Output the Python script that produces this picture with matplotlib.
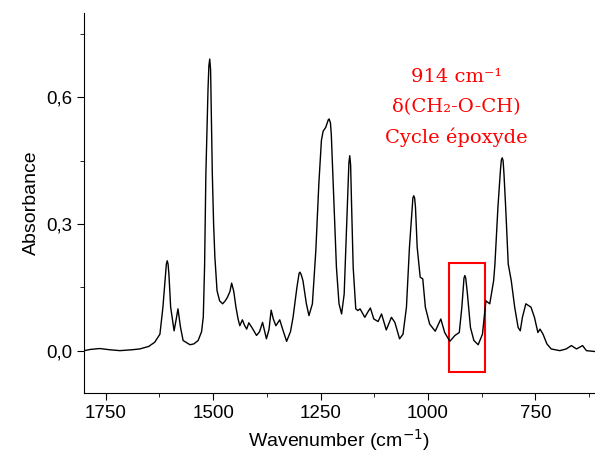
import matplotlib
matplotlib.use('Agg')
from matplotlib import pyplot as plt
from matplotlib.ticker import MultipleLocator, FuncFormatter
from matplotlib.patches import Rectangle

# FTIR spectrum
wavenumber = [1800, 1785, 1764, 1740, 1717, 1690, 1671, 1650, 1636, 1624, 1617, 1611,
              1609, 1607, 1605, 1603, 1599, 1591, 1586, 1582, 1576, 1570, 1554, 1545,
              1535, 1527, 1523, 1520, 1517, 1512, 1510, 1508, 1506, 1505, 1502, 1499,
              1496, 1491, 1485, 1478, 1472, 1467, 1461, 1457, 1452, 1447, 1442, 1438,
              1432, 1427, 1422, 1417, 1410, 1399, 1392, 1385, 1380, 1376, 1370, 1365,
              1360, 1354, 1345, 1338, 1329, 1320, 1314, 1305, 1300, 1298, 1295, 1291,
              1283, 1277, 1269, 1261, 1254, 1248, 1244, 1238, 1232, 1230, 1227, 1225,
              1219, 1213, 1207, 1201, 1195, 1190, 1186, 1184, 1182, 1180, 1178, 1174,
              1168, 1163, 1158, 1152, 1147, 1139, 1134, 1126, 1116, 1108, 1097, 1085,
              1077, 1066, 1058, 1050, 1043, 1036, 1035, 1033, 1031, 1029, 1025, 1018,
              1012, 1006, 996, 983, 970, 961, 949, 937, 927, 921, 916, 914,
              912, 908, 901, 893, 883, 873, 865, 856, 847, 844, 837, 831,
              829, 827, 825, 823, 819, 813, 806, 798, 790, 785, 780, 772,
              760, 752, 744, 739, 732, 723, 713, 693, 678, 666, 654, 640,
              631, 612]
absorbance = [0.000, 0.003, 0.005, 0.002, 0.000, 0.002, 0.004, 0.010, 0.020, 0.039, 0.103, 0.180,
              0.205, 0.213, 0.205, 0.180, 0.103, 0.047, 0.075, 0.099, 0.055, 0.024, 0.014, 0.016,
              0.024, 0.045, 0.080, 0.200, 0.419, 0.620, 0.675, 0.691, 0.665, 0.600, 0.419, 0.300,
              0.221, 0.142, 0.118, 0.111, 0.118, 0.126, 0.140, 0.160, 0.140, 0.103, 0.075, 0.059,
              0.073, 0.060, 0.051, 0.066, 0.055, 0.036, 0.045, 0.067, 0.045, 0.028, 0.050, 0.096,
              0.075, 0.059, 0.073, 0.050, 0.022, 0.045, 0.079, 0.150, 0.183, 0.186, 0.180, 0.166,
              0.111, 0.083, 0.111, 0.237, 0.395, 0.498, 0.520, 0.529, 0.547, 0.549, 0.540, 0.513,
              0.355, 0.197, 0.111, 0.087, 0.134, 0.276, 0.395, 0.445, 0.462, 0.440, 0.355, 0.197,
              0.099, 0.095, 0.099, 0.088, 0.079, 0.093, 0.101, 0.075, 0.069, 0.087, 0.049, 0.079,
              0.067, 0.028, 0.039, 0.103, 0.245, 0.350, 0.362, 0.367, 0.362, 0.340, 0.245, 0.174,
              0.170, 0.103, 0.063, 0.046, 0.075, 0.043, 0.022, 0.036, 0.043, 0.103, 0.172, 0.178,
              0.172, 0.134, 0.055, 0.024, 0.014, 0.039, 0.118, 0.111, 0.166, 0.205, 0.340, 0.430,
              0.452, 0.457, 0.450, 0.420, 0.340, 0.205, 0.166, 0.103, 0.055, 0.047, 0.079, 0.111,
              0.103, 0.079, 0.043, 0.051, 0.039, 0.016, 0.004, 0.000, 0.004, 0.012, 0.004, 0.012,
              0.000, -0.002]

box_x = [866, 951]
box_y = [-0.05, 0.208]
note_lines = ['914 cm\u207b\u00b9', '\u03b4(CH\u2082-O-CH)', 'Cycle \u00e9poxyde']

fig = plt.figure(figsize=(5.95, 4.66), dpi=100)
ax = fig.add_axes([0.141, 0.157, 0.859, 0.815])

ax.plot(wavenumber, absorbance, color='black', linewidth=1.0, solid_joinstyle='round')

ax.add_patch(Rectangle((box_x[0], box_y[0]), box_x[1] - box_x[0], box_y[1] - box_y[0],
                       fill=False, edgecolor='red', linewidth=1.5))
for i, line in enumerate(note_lines):
    ax.text(933, 0.648 - i * 0.0715, line, color='red', ha='center', va='center',
            fontsize=14, family='DejaVu Serif')

ax.set_xlim(1801, 611)
ax.set_ylim(-0.1, 0.8)
ax.xaxis.set_major_locator(MultipleLocator(250))
ax.xaxis.set_minor_locator(MultipleLocator(125))
ax.yaxis.set_major_locator(MultipleLocator(0.3))
ax.yaxis.set_minor_locator(MultipleLocator(0.15))
ax.yaxis.set_major_formatter(FuncFormatter(lambda v, p: f"{v:.1f}".replace('.', ',')))
ax.tick_params(which='major', direction='out', length=5, labelsize=13.5)
ax.tick_params(which='minor', direction='out', length=3)

for side in ['top', 'right']:
    ax.spines[side].set_visible(False)

ax.set_xlabel('Wavenumber (cm$^{-1}$)', fontsize=14, family='Liberation Sans')
ax.set_ylabel('Absorbance', fontsize=14, family='Liberation Sans')
for lab in ax.get_xticklabels() + ax.get_yticklabels():
    lab.set_family('Liberation Sans')

plt.savefig('out.png', dpi=100)
